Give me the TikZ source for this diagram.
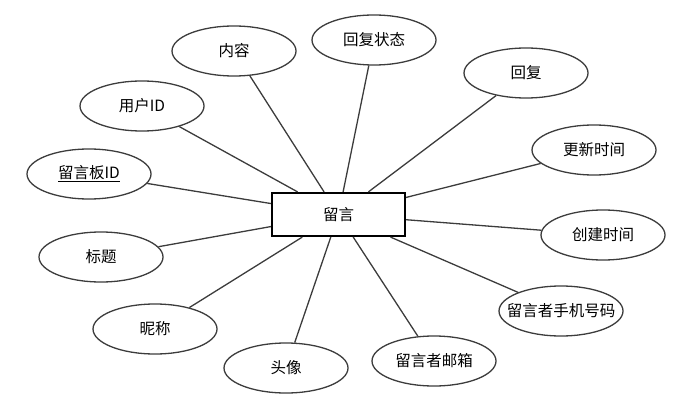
\documentclass[tikz,border=0pt]{standalone}
\usepackage{fontspec}
\setmainfont{Noto Sans CJK SC}
\definecolor{edgegray}{RGB}{60,60,60}
\usetikzlibrary{shapes.geometric}

\begin{document}
\begin{tikzpicture}[
  x=1pt, y=-1pt,
  entity/.style={rectangle, draw=black, line width=2.2pt, fill=white, minimum width=133pt, minimum height=43pt, font=\fontsize{15.5}{18}\selectfont},
  attr/.style={ellipse, draw=edgegray, line width=1.3pt, fill=white, minimum width=124pt, minimum height=50pt, inner sep=0pt, font=\fontsize{15.5}{18}\selectfont},
  link/.style={draw=edgegray, line width=1.3pt}
]
  \useasboundingbox (0,0) rectangle (679,414);

  % Entity
  \node[entity] (msg) at (338.5,214.5) {留言};

  % Attributes
  \node[attr] (content)    at (234,51)  {内容};
  \node[attr] (replystate) at (374,40)  {回复状态};
  \node[attr] (reply)      at (526,73)  {回复};
  \node[attr] (userid)     at (142,106) {用户ID};
  \node[attr] (updtime)    at (594,150) {更新时间};
  \node[attr] (boardid)    at (89,174)  {\underline{留言板ID}};
  \node[attr] (crtime)     at (603,235) {创建时间};
  \node[attr] (title)      at (101,257) {标题};
  \node[attr, inner xsep=-11pt] (phone) at (561,311) {留言者手机号码};
  \node[attr] (nick)       at (155,329) {昵称};
  \node[attr] (avatar)     at (286,368) {头像};
  \node[attr] (email)      at (434,361) {留言者邮箱};

  % Links
  \foreach \a in {content,replystate,reply,userid,updtime,boardid,crtime,title,phone,nick,avatar,email}
    \draw[link] (msg) -- (\a);
\end{tikzpicture}
\end{document}
